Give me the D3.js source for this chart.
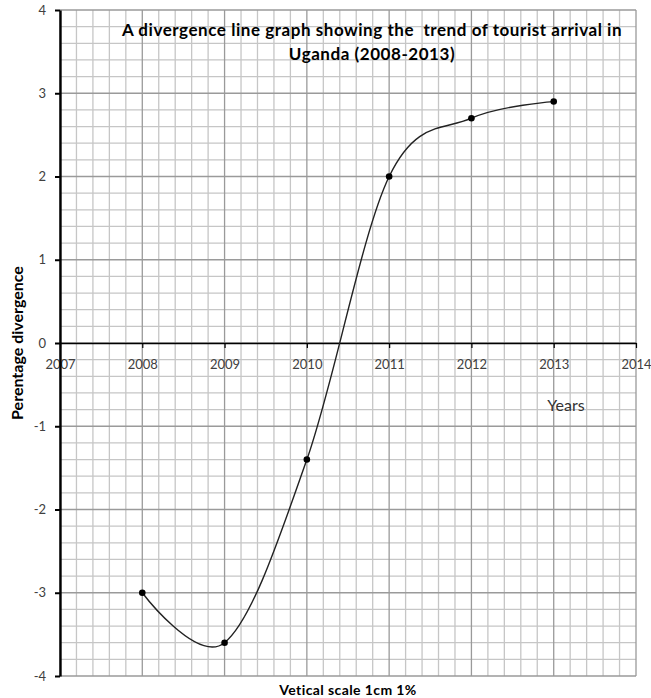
<!DOCTYPE html>
<html>
<head>
<meta charset="utf-8">
<script src="https://cdn.jsdelivr.net/npm/d3@7"></script>
<style>
  html, body { margin: 0; padding: 0; background: #fff; }
  svg { display: block; }
  text { font-family: Lato, "Open Sans", sans-serif; }
</style>
</head>
<body>
<svg id="chart" width="651" height="698"></svg>
<script>
// Tourist arrival divergence, Uganda 2008–2013
const years = [2008, 2009, 2010, 2011, 2012, 2013];
const divergence = [-3, -3.6, -1.4, 2, 2.7, 2.9];
const xTickValues = [2007, 2008, 2009, 2010, 2011, 2012, 2013, 2014];
const yTickValues = [-4, -3, -2, -1, 0, 1, 2, 3, 4];
const titleLines = ["A divergence line graph showing the  trend of tourist arrival in", "Uganda (2008-2013)"];

const svg = d3.select("#chart");
const plotLeft = 60, plotRight = 636, plotTop = 10, plotBottom = 676;

const x = d3.scaleLinear().domain([2007, 2014]).range([plotLeft, plotRight]);
const y = d3.scaleLinear().domain([-4, 4]).range([plotBottom, plotTop]);

// graph-paper grid: fine lines every 0.2, heavier lines on whole units
const grid = svg.append("g");
const xMinor = x.ticks(35), yMinor = y.ticks(40);
const isWhole = v => Math.abs(v - Math.round(v)) < 1e-6;

grid.selectAll("line.vx").data(xMinor.filter(v => !isWhole(v))).join("line")
  .attr("x1", d => x(d)).attr("x2", d => x(d)).attr("y1", plotTop).attr("y2", plotBottom)
  .attr("stroke", "#c6c6c6").attr("stroke-width", 1.3);
grid.selectAll("line.hy").data(yMinor.filter(v => !isWhole(v))).join("line")
  .attr("y1", d => y(d)).attr("y2", d => y(d)).attr("x1", plotLeft).attr("x2", plotRight)
  .attr("stroke", "#c6c6c6").attr("stroke-width", 1.3);
grid.selectAll("line.vX").data(xMinor.filter(isWhole)).join("line")
  .attr("x1", d => x(d)).attr("x2", d => x(d)).attr("y1", plotTop).attr("y2", plotBottom)
  .attr("stroke", "#9a9a9a").attr("stroke-width", 1.3);
grid.selectAll("line.hY").data(yMinor.filter(isWhole)).join("line")
  .attr("y1", d => y(d)).attr("y2", d => y(d)).attr("x1", plotLeft).attr("x2", plotRight)
  .attr("stroke", "#9a9a9a").attr("stroke-width", 1.3);

// axes
const xAxis = svg.append("g").attr("transform", `translate(0,${y(0)})`)
  .call(d3.axisBottom(x).tickValues(xTickValues).tickFormat(d3.format("d")).tickSize(5).tickPadding(12).tickSizeOuter(0));
xAxis.select(".domain").attr("stroke", "#000").attr("stroke-width", 1.6);
xAxis.selectAll(".tick line").attr("stroke", "#000").attr("stroke-width", 1.2);
xAxis.selectAll(".tick text").attr("fill", "#404040").attr("font-size", 13)
  .style("font-family", "Lato, sans-serif");

const yAxis = svg.append("g").attr("transform", `translate(${plotLeft},0)`)
  .call(d3.axisLeft(y).tickValues(yTickValues).tickFormat(d => String(d))
    .tickSize(5).tickPadding(9).tickSizeOuter(0));
yAxis.select(".domain").attr("stroke", "#000").attr("stroke-width", 2.4);
yAxis.selectAll(".tick line").attr("stroke", "#000").attr("stroke-width", 2);
yAxis.selectAll(".tick text").attr("fill", "#404040").attr("font-size", 13)
  .style("font-family", "Lato, sans-serif");

// smoothed series line and markers
const line = d3.line()
  .x((d, i) => x(years[i]))
  .y(d => y(d))
  .curve(d3.curveCardinal.tension(0));

svg.append("path").datum(divergence)
  .attr("d", line).attr("fill", "none")
  .attr("stroke", "#222").attr("stroke-width", 1.4);

svg.selectAll("circle.pt").data(divergence).join("circle")
  .attr("cx", (d, i) => x(years[i])).attr("cy", d => y(d)).attr("r", 3.3)
  .attr("fill", "#000");

// title
const title = svg.append("text").attr("text-anchor", "middle")
  .attr("font-weight", "bold").attr("font-size", 17).attr("fill", "#000")
  .attr("letter-spacing", 0.55);
title.selectAll("tspan").data(titleLines).join("tspan")
  .attr("x", 372).attr("y", (d, i) => 36 + i * 24)
  .style("white-space", "pre")
  .text(d => d);

// axis titles
svg.append("text")
  .attr("transform", `translate(23,${y(0)}) rotate(-90)`)
  .attr("text-anchor", "middle").attr("font-weight", "bold").attr("font-size", 16)
  .attr("fill", "#000").text("Perentage divergence");

svg.append("text").attr("x", 566).attr("y", 411).attr("text-anchor", "middle")
  .attr("font-size", 16).attr("fill", "#333").text("Years");

svg.append("text").attr("x", 348).attr("y", 695).attr("text-anchor", "middle")
  .attr("font-weight", "bold").attr("font-size", 14).attr("fill", "#000")
  .attr("letter-spacing", 0.4)
  .text("Vetical scale 1cm 1%");
</script>
</body>
</html>
